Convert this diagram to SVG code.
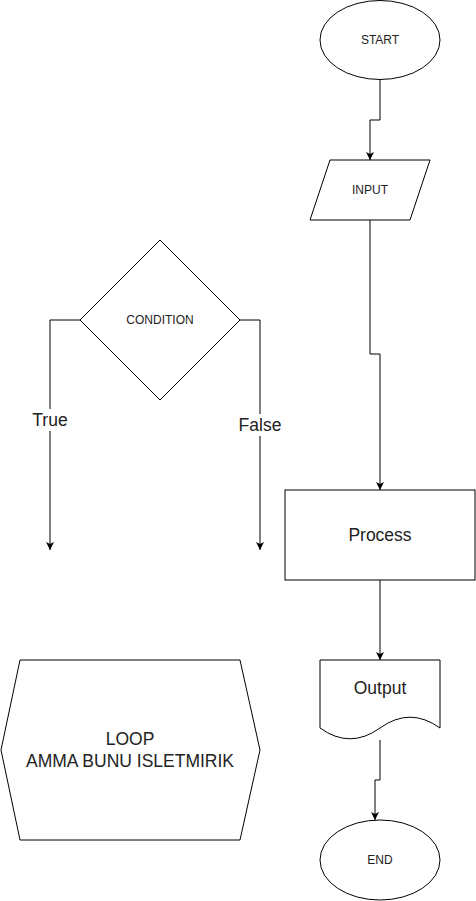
<svg xmlns="http://www.w3.org/2000/svg" width="476" height="901" viewBox="0 0 476 901">
<style>
.shape{fill:#fff;stroke:#000;stroke-width:1}
.edge{fill:none;stroke:#000;stroke-width:1;marker-end:url(#arr)}
.t{font-family:"Liberation Sans",Arial,sans-serif;fill:#222;text-anchor:middle;dominant-baseline:central}
.s{font-size:12px}
.l{font-size:17.5px}
</style>
<defs>
<marker id="arr" markerUnits="userSpaceOnUse" markerWidth="8" markerHeight="8" viewBox="0 0 8 8" refX="8" refY="4" orient="auto">
<path d="M0,0 L8,4 L0,8 L2,4 Z" fill="#000"/>
</marker>
</defs>
<rect width="476" height="901" fill="#fff"/>
<g id="connectors">
<path class="edge" d="M380,80 V120 H370 V160"/>
<path class="edge" d="M370,220 V354 H380 V490"/>
<path class="edge" d="M380,580 V660"/>
<path class="edge" d="M380,740 V780 H375 V820"/>
<path class="edge" d="M80,320 H50 V550"/>
<path class="edge" d="M240,320 H260 V550"/>
</g>
<g id="start">
<ellipse class="shape" cx="380" cy="40" rx="60" ry="39.5"/>
<text class="t s" x="380" y="40">START</text>
</g>
<g id="input">
<path class="shape" d="M330,160 H430 L410,220 H310 Z"/>
<text class="t s" x="370" y="190">INPUT</text>
</g>
<g id="condition">
<path class="shape" d="M160,240 L240,320 L160,400 L80,320 Z"/>
<text class="t s" x="160" y="320">CONDITION</text>
</g>
<g id="label-true">
<rect x="31" y="409" width="39" height="22" fill="#fff"/>
<text class="t l" x="50" y="420">True</text>
</g>
<g id="label-false">
<rect x="237" y="414" width="46" height="22" fill="#fff"/>
<text class="t l" x="260" y="425">False</text>
</g>
<g id="process">
<rect class="shape" x="285" y="490" width="190" height="90"/>
<text class="t l" x="380" y="535">Process</text>
</g>
<g id="output">
<path class="shape" d="M320,660 H440 V728 Q410,706.4 380,728 Q350,749.6 320,728 Z"/>
<text class="t l" x="380" y="688">Output</text>
</g>
<g id="end">
<ellipse class="shape" cx="380" cy="860" rx="60" ry="40"/>
<text class="t s" x="380" y="860">END</text>
</g>
<g id="loop">
<path class="shape" d="M20,660 H240 L260,750 L240,840 H20 L1,750 Z"/>
<text class="t l" x="130" y="739">LOOP</text>
<text class="t l" x="130" y="761">AMMA BUNU ISLETMIRIK</text>
</g>
</svg>
